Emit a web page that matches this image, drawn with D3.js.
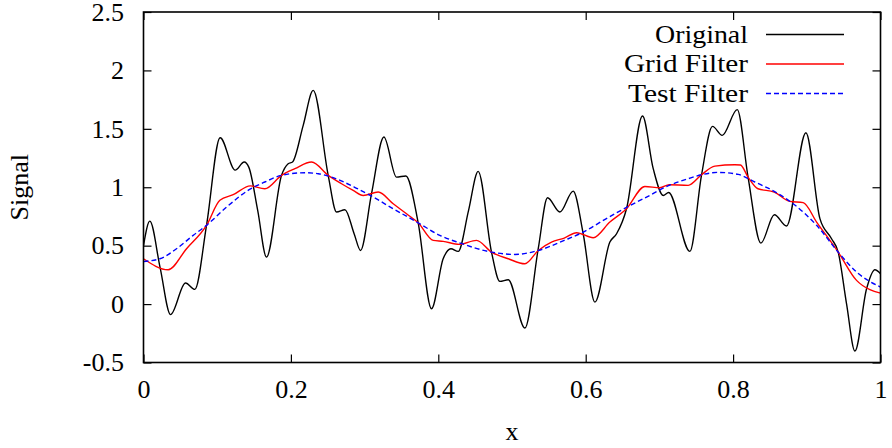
<!DOCTYPE html>
<html>
<head>
<meta charset="utf-8">
<script src="https://cdn.jsdelivr.net/npm/d3@7"></script>
<style>
  html, body { margin: 0; padding: 0; background: #fff; }
</style>
</head>
<body>
<div id="chart"></div>
<script>
// values
const xTicks = [0, 0.2, 0.4, 0.6, 0.8, 1];
const yTicks = [-0.5, 0, 0.5, 1, 1.5, 2, 2.5];

const originalX = [0, 0.0086, 0.0226, 0.0367, 0.057, 0.0697, 0.0855, 0.104, 0.1244, 0.1366, 0.1430, 0.155, 0.1669, 0.1873, 0.1963, 0.2022, 0.2167, 0.2303, 0.2506, 0.2619, 0.2733, 0.2859, 0.2945, 0.3094, 0.3262, 0.3433, 0.3560, 0.3727, 0.3908, 0.4066, 0.4171, 0.427, 0.441, 0.4541, 0.4722, 0.4835, 0.4949, 0.5175, 0.5356, 0.5482, 0.565, 0.5830, 0.5966, 0.6125, 0.6328, 0.6419, 0.6554, 0.6771, 0.6916, 0.7052, 0.7125, 0.7414, 0.7571, 0.7721, 0.7852, 0.8056, 0.8203, 0.8377, 0.8560, 0.8725, 0.8988, 0.9178, 0.9336, 0.9426, 0.954, 0.9653, 0.9811, 0.9924, 1.0];
const originalY = [0.50, 0.71, 0.31, -0.09, 0.18, 0.126, 0.674, 1.424, 1.147, 1.216, 1.17, 0.80, 0.402, 1.102, 1.201, 1.216, 1.53, 1.829, 1.102, 0.788, 0.808, 0.60, 0.459, 0.945, 1.430, 1.087, 1.096, 0.696, -0.040, 0.388, 0.474, 0.451, 0.80, 1.136, 0.445, 0.194, 0.208, -0.205, 0.474, 0.910, 0.788, 0.967, 0.602, 0.017, 0.531, 0.602, 0.816, 1.610, 1.159, 0.930, 0.955, 0.451, 1.102, 1.521, 1.444, 1.664, 1.087, 0.522, 0.765, 0.668, 1.467, 0.731, 0.559, 0.445, 0.0, -0.402, 0.131, 0.294, 0.26];

const gridX = [0, 0.0335, 0.0584, 0.0855, 0.1036, 0.1217, 0.1450, 0.1646, 0.1873, 0.2054, 0.2281, 0.2506, 0.2687, 0.2845, 0.2981, 0.3185, 0.3388, 0.3569, 0.3727, 0.3931, 0.4066, 0.4284, 0.4519, 0.4722, 0.4949, 0.5175, 0.5356, 0.5536, 0.5709, 0.5876, 0.6102, 0.6328, 0.6554, 0.6803, 0.7007, 0.7133, 0.7391, 0.7571, 0.7753, 0.8024, 0.8100, 0.8203, 0.8338, 0.8558, 0.877, 0.8951, 0.9133, 0.9426, 0.9675, 0.9856, 1.0];
const gridY = [0.388, 0.294, 0.474, 0.674, 0.888, 0.936, 1.012, 0.987, 1.102, 1.159, 1.216, 1.102, 1.030, 0.973, 0.930, 0.959, 0.859, 0.773, 0.696, 0.545, 0.537, 0.511, 0.545, 0.445, 0.388, 0.345, 0.459, 0.531, 0.565, 0.611, 0.568, 0.702, 0.816, 1.007, 0.996, 1.022, 1.016, 1.107, 1.181, 1.193, 1.19, 1.087, 0.987, 0.959, 0.879, 0.868, 0.702, 0.445, 0.203, 0.123, 0.094];

const testX = [0, 0.0222, 0.0448, 0.0674, 0.0855, 0.1127, 0.1434, 0.1646, 0.1873, 0.2190, 0.2371, 0.2506, 0.2859, 0.3117, 0.3388, 0.3727, 0.4021, 0.4284, 0.4722, 0.5039, 0.5356, 0.5709, 0.5966, 0.6238, 0.6554, 0.6826, 0.7133, 0.7391, 0.7571, 0.7798, 0.8069, 0.8294, 0.8558, 0.8815, 0.9133, 0.9426, 0.9675, 1.0];
const testY = [0.365, 0.388, 0.474, 0.588, 0.674, 0.830, 0.979, 1.045, 1.102, 1.124, 1.116, 1.096, 1.002, 0.916, 0.816, 0.696, 0.588, 0.525, 0.445, 0.425, 0.459, 0.545, 0.616, 0.716, 0.828, 0.916, 1.016, 1.073, 1.107, 1.127, 1.110, 1.045, 0.965, 0.859, 0.674, 0.445, 0.274, 0.146];

const seriesNames = ["Original", "Grid Filter", "Test Filter"];

const W = 892, H = 448;
const plot = { left: 143.5, right: 880.5, top: 12, bottom: 362.5 };
const fontSize = 26;
const serif = '"Liberation Serif", "Times New Roman", serif';

const svg = d3.select("#chart").append("svg").attr("width", W).attr("height", H);

const x = d3.scaleLinear().domain([0, 1]).range([plot.left, plot.right]);
const y = d3.scaleLinear().domain([-0.5, 2.5]).range([plot.bottom, plot.top]);

const fmt = (d) => String(d);

// axes: ticks point inward (mirror on top/right)
const gx = svg.append("g").attr("transform", `translate(0,${plot.bottom})`)
  .call(d3.axisBottom(x).tickValues(xTicks).tickFormat(fmt).tickSize(-8).tickPadding(17));
const gxTop = svg.append("g").attr("transform", `translate(0,${plot.top})`)
  .call(d3.axisTop(x).tickValues(xTicks).tickFormat("").tickSize(-8));
const gy = svg.append("g").attr("transform", `translate(${plot.left},0)`)
  .call(d3.axisLeft(y).tickValues(yTicks).tickFormat(fmt).tickSize(-8).tickPadding(19.5));
const gyR = svg.append("g").attr("transform", `translate(${plot.right},0)`)
  .call(d3.axisRight(y).tickValues(yTicks).tickFormat("").tickSize(-8));

[gx, gxTop, gy, gyR].forEach((g) => {
  g.select(".domain").remove();
  g.attr("font-family", serif).attr("font-size", fontSize);
  g.selectAll(".tick line").attr("stroke", "#000").attr("stroke-width", 1.2);
  g.selectAll(".tick text").attr("fill", "#000").style("font-family", serif);
});

const lineGen = (xs, ys) => d3.line()
  .x((d, i) => x(xs[i]))
  .y((d) => y(d))
  .curve(d3.curveMonotoneX)(ys);

svg.append("clipPath").attr("id", "clip")
  .append("rect").attr("x", plot.left).attr("y", plot.top)
  .attr("width", plot.right - plot.left).attr("height", plot.bottom - plot.top);

const lines = svg.append("g").attr("clip-path", "url(#clip)");
lines.append("path").attr("d", lineGen(originalX, originalY))
  .attr("fill", "none").attr("stroke", "#000").attr("stroke-width", 1.4);
lines.append("path").attr("d", lineGen(gridX, gridY))
  .attr("fill", "none").attr("stroke", "#ff0000").attr("stroke-width", 1.4);
lines.append("path").attr("d", lineGen(testX, testY))
  .attr("fill", "none").attr("stroke", "#0000ff").attr("stroke-width", 1.4)
  .attr("stroke-dasharray", "5,3");

// frame
svg.append("rect").attr("x", plot.left).attr("y", plot.top)
  .attr("width", plot.right - plot.left).attr("height", plot.bottom - plot.top)
  .attr("fill", "none").attr("stroke", "#000").attr("stroke-width", 1.6);

// axis titles
svg.append("text").attr("x", (plot.left + plot.right) / 2).attr("y", 440)
  .attr("text-anchor", "middle").attr("font-size", fontSize).style("font-family", serif).text("x");
svg.append("text").attr("transform", `translate(28,${(plot.top + plot.bottom) / 2}) rotate(-90)`)
  .attr("text-anchor", "middle").attr("font-size", fontSize).style("font-family", serif).text("Signal");

// legend (text widths stretched a little toward the wider TeX font)
const legendStyles = [
  { color: "#000", dash: null, width: 93 },
  { color: "#ff0000", dash: null, width: 124 },
  { color: "#0000ff", dash: "5,3", width: 120 },
];
const legend = svg.append("g");
seriesNames.forEach((name, i) => {
  const ly = 34.5 + i * 29.5;
  legend.append("text").attr("x", 748).attr("y", ly + 8)
    .attr("text-anchor", "end").attr("font-size", fontSize).style("font-family", serif)
    .attr("textLength", legendStyles[i].width).attr("lengthAdjust", "spacingAndGlyphs")
    .text(name);
  legend.append("line").attr("x1", 766).attr("x2", 844).attr("y1", ly).attr("y2", ly)
    .attr("stroke", legendStyles[i].color).attr("stroke-width", 1.4)
    .attr("stroke-dasharray", legendStyles[i].dash);
});
</script>
</body>
</html>
